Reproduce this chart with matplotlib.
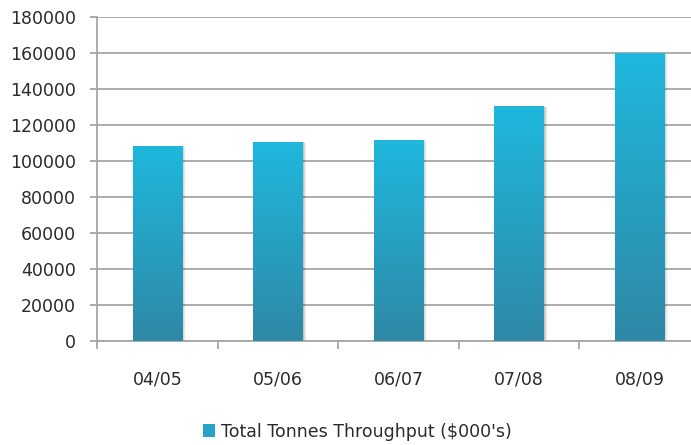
import numpy as np
import matplotlib.pyplot as plt
from matplotlib.patches import Rectangle

years = ['04/05', '05/06', '06/07', '07/08', '08/09']
throughput = [108600, 110800, 111900, 130600, 160000]
series_name = "Total Tonnes Throughput ($000's)"

plt.rcParams['font.family'] = ['DejaVu Sans']

fig = plt.figure(figsize=(6.91, 4.45), dpi=100)
ax = fig.add_axes([0.1404, 0.2337, 0.8726, 0.7281])

grid_col = '#a6a6a6'
text_col = '#2b2b2b'
top_col = np.array([0x1f, 0xb8, 0xde]) / 255
bot_col = np.array([0x2f, 0x88, 0xa6]) / 255

x = np.arange(len(years))
width = 0.41
bars = ax.bar(x, throughput, width=width, color='none', edgecolor='none', zorder=3)

# vertical gradient inside each bar, with a soft shadow on the right
grad = np.linspace(0, 1, 256)[:, None, None]
img = bot_col * (1 - grad) + top_col * grad
for b in bars:
    x0, y0 = b.get_x(), b.get_y()
    w, h = b.get_width(), b.get_height()
    for k, a in enumerate([0.10, 0.07, 0.05, 0.03]):
        sh = Rectangle((x0 + 0.008 * (k + 1), y0), w, h - 250 * (k + 1),
                       facecolor='black', alpha=a, edgecolor='none', zorder=2)
        ax.add_patch(sh)
    im = ax.imshow(img, extent=[x0, x0 + w, y0, y0 + h], origin='lower',
                   aspect='auto', zorder=3)
    im.set_clip_path(b)

ax.set_xlim(-0.5, len(years) - 0.5)
ax.set_ylim(0, 180000)
ax.set_yticks(np.arange(0, 180001, 20000))
ax.set_xticks(x)
ax.set_xticklabels(years)
ax.set_xticks(np.arange(-0.5, len(years), 1), minor=True)

ax.yaxis.grid(True, color=grid_col, linewidth=1.3, zorder=0)
ax.set_axisbelow(True)
for s in ['top', 'right']:
    ax.spines[s].set_visible(False)
for s in ['left', 'bottom']:
    ax.spines[s].set_color(grid_col)
    ax.spines[s].set_linewidth(1.3)

ax.tick_params(axis='y', direction='out', length=5, color=grid_col, width=1.3,
               labelsize=12.5, labelcolor=text_col, pad=10)
ax.tick_params(axis='x', which='major', length=0, labelsize=12.5,
               labelcolor=text_col, pad=21)
ax.tick_params(axis='x', which='minor', direction='out', length=6,
               color=grid_col, width=1.3)

handle = Rectangle((0, 0), 1, 1, facecolor='#23a3c8', edgecolor='none')
fig.legend([handle], [series_name], loc='center', bbox_to_anchor=(0.517, 0.03),
           frameon=False, fontsize=12.5, handlelength=0.7, handleheight=0.7,
           handletextpad=0.3, labelcolor=text_col)

fig.savefig('out.png', dpi=100)
